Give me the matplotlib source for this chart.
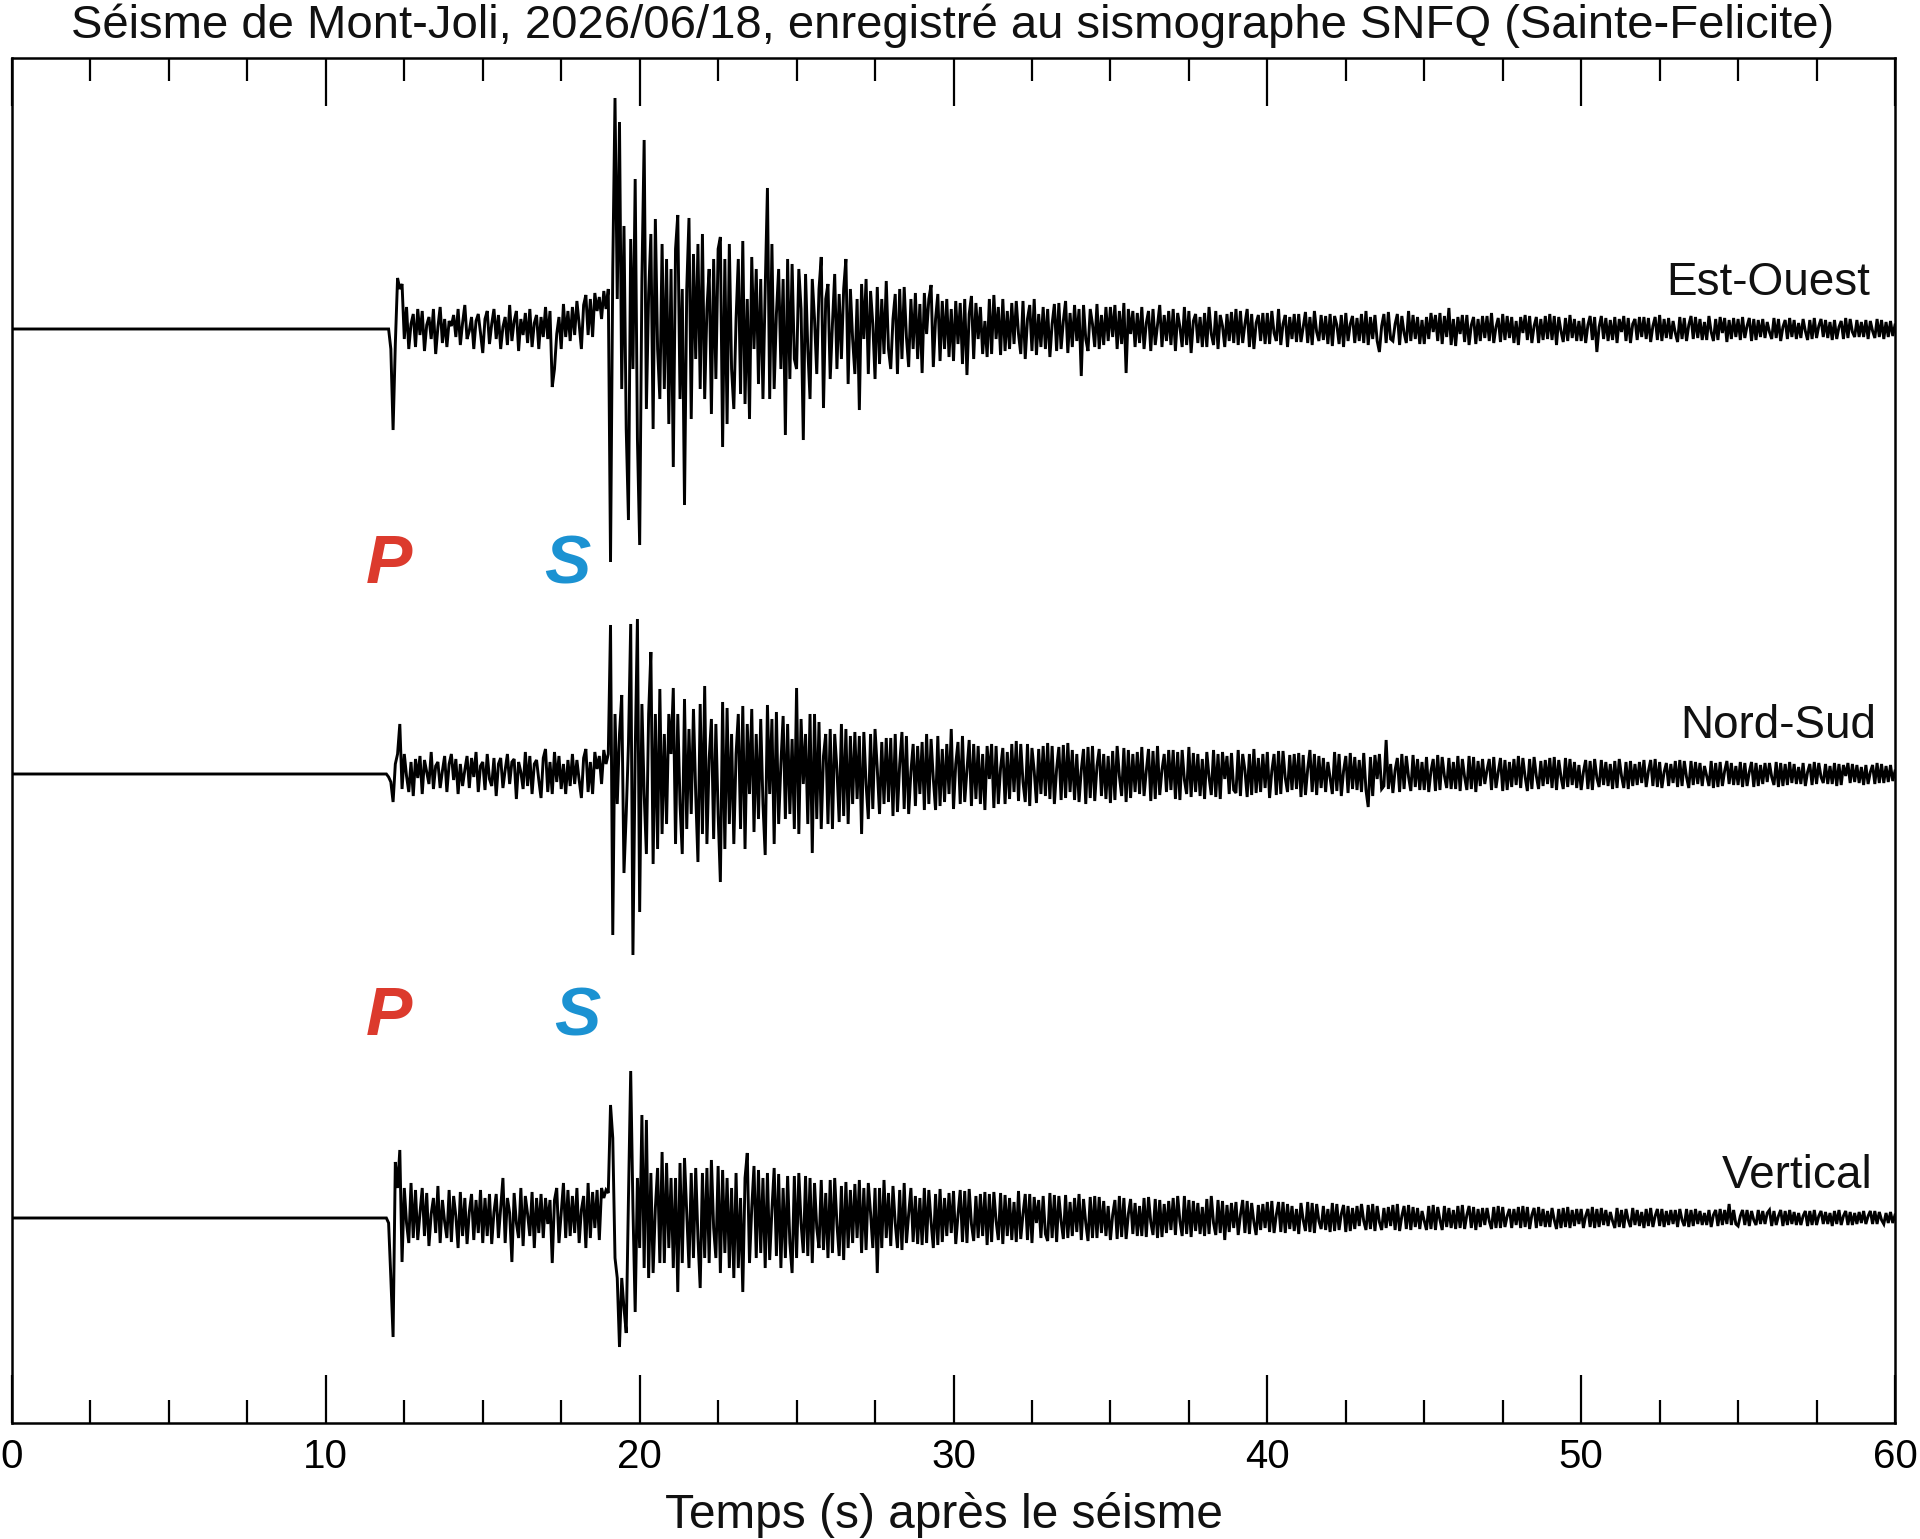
import numpy as np
import matplotlib
matplotlib.use("Agg")
import matplotlib.pyplot as plt
from matplotlib.ticker import MultipleLocator

plt.rcParams['font.family'] = ['Liberation Sans', 'DejaVu Sans']

TITLE = "Séisme de Mont-Joli, 2026/06/18, enregistré au sismographe SNFQ (Sainte-Felicite)"
XLABEL = "Temps (s) après le séisme"
COMPONENTS = ["Est-Ouest", "Nord-Sud", "Vertical"]
X_TICKS = [0, 10, 20, 30, 40, 50, 60]

FIRST_SECOND = 12      # first digitised second (rows below: one row per second)
LAST_SECOND = 60

# Est-Ouest trace, amplitude (arbitrary units); each row = one second from 12 s
ew = [
 [0, -20, -101, -15, 51, 40, 45, -10, 22, -20, 5, 15, -18, 20],
 [-6, 18, -22, 4, 12, -10, 20, -25, 2, 22, -14, 10, -18, 8],
 [3, 14, -8, 20, -16, 6, 24, -10, -2, 12, -20, 8, 15, -4],
 [-24, 10, 18, -15, 5, 20, -10, 14, -20, 2, 12, -16, 24, -12],
 [8, 18, -22, 10, -6, 16, -14, 20, -18, 6, 14, -20, 12, -8],
 [22, -10, 18, -58, -40, -5, 12, -20, 25, -8, 18, -12, 22, -6],
 [28, 5, -20, 24, 34, -6, 30, -8, 36, 18, 32, 10, 38, 20],
 [40, -233, 60, 231, 30, 207, -60, 103, -100, -191, 90, -40, 150, -110],
 [-216, 50, 189, -80, 35, 95, -100, 110, -20, -70, 85, -60, 70, -95],
 [60, -138, 80, 114, -70, 40, -176, 40, 111, -90, 75, -30, 85, -60],
 [95, -70, 20, 60, -85, 70, -50, 80, 92, -118, 70, -95, 85, -40],
 [-80, 10, 70, -65, 88, -75, 30, -90, 72, -20, 60, -55, 50, -70],
 [40, 141, -70, 85, -60, 15, 60, -40, 50, -106, 70, -50, 65, -30],
 [-40, 60, 20, -111, 55, -20, -70, 50, 10, -45, 40, 72, -79, 30],
 [45, -50, 5, 55, -40, 35, -30, 40, 70, -55, 40, -10, -45, 30],
 [-81, 45, -10, 50, -45, 38, 5, -50, 42, -35, 30, -25, 48, -20],
 [-40, 10, 35, -45, 40, -30, 42, -8, -38, 30, -20, 36, -30, 25],
 [-44, 36, -5, 30, 44, -38, 10, 35, -32, 28, -20, 30, -28, 20],
 [-32, 28, -15, 26, -35, 30, -46, 15, 33, -30, 26, -10, 22, -25],
 [8, -28, 30, -25, 34, -10, 22, -26, 30, -22, 18, -20, 26, -15],
 [28, -5, -25, 28, -30, 10, 24, -22, 30, -26, 15, -18, 22, -20],
 [20, -28, 5, 25, -22, 26, -20, 8, 28, -24, 16, -18, 24, -12],
 [20, -47, 24, -10, -22, 20, 5, -18, 25, -20, 14, -16, 22, -12],
 [22, -8, 24, -20, 18, -15, 26, -44, 20, -5, 18, -18, 16, -14],
 [22, -20, 6, 18, -22, 20, -16, 4, 24, -18, 14, -12, 18, -16],
 [20, -22, 16, 2, -18, 22, -16, 18, -24, 8, 15, -14, 12, -18],
 [16, -18, 22, -5, -16, 18, -20, 14, 3, -18, 15, -12, 17, -14],
 [20, -16, 18, -14, 5, 20, -18, 15, -20, 6, 14, -12, 16, -15],
 [16, -15, 18, -4, -12, 20, -16, 5, 14, -18, 12, -10, 15, -13],
 [15, -13, 2, 17, -14, 12, -16, 18, -3, -12, 14, -11, 13, -15],
 [15, -17, 13, 4, -15, 14, -18, 16, -12, 5, 13, -14, 11, -12],
 [15, -14, 18, -16, 12, -10, 14, -12, -23, 3, 15, -14, 17, -10],
 [-12, 5, 15, -16, 13, -4, -14, 18, -12, 14, -10, 12, -15, 9],
 [-15, 12, -10, 16, -3, 14, -12, 16, -15, 13, -8, 21, -16, 10],
 [-17, 12, -5, 14, -13, 14, -16, 4, 12, -15, 10, -12, 13, -9],
 [13, -12, 16, -14, 2, 11, -13, 15, -11, 13, -9, 12, -14, 8],
 [-16, 12, -4, 14, -11, 13, -14, 3, 12, -14, 10, -11, 13, -10],
 [15, -11, 13, -16, 12, -2, -13, 11, -12, 14, -9, 10, -12, 8],
 [-12, 11, -14, 4, 13, -11, 12, -23, 2, 13, -10, 11, -12, 9],
 [-11, 12, -14, 10, -3, 13, -12, 11, -14, 5, 10, -11, 12, -8],
 [12, -10, 11, -13, 3, 12, -11, 14, -12, 10, -9, 11, -10, 8],
 [-4, -13, 12, -10, 11, -12, 4, 13, -10, 12, -9, 10, -11, 7],
 [-11, 13, -3, -12, 10, -11, 12, -4, 11, -13, 9, -10, 11, -8],
 [10, -11, 12, -9, 3, 11, -12, 10, -11, 9, -8, 10, -9, 7],
 [-3, -10, 11, -9, 10, -12, 2, 9, -10, 11, -8, 9, -10, 6],
 [-9, 10, -2, -11, 9, -10, 11, -9, 3, 10, -8, 9, -9, 7],
 [-11, 9, -10, 2, 8, -10, 11, -9, 10, -3, -8, 9, -8, 7],
 [-8, 9, -10, 8, -2, -9, 10, -8, 9, -10, 7, -8, 8, -7],
]
ew_end = 4

# Nord-Sud trace
ns = [
 [-3, -8, -28, 10, 20, 50, -15, 20, -2, -18, 12, -22, 15, -4],
 [18, -20, 14, 2, -10, 22, -15, 8, 12, -14, 3, 18, -18, 10],
 [20, -6, 15, -20, 10, -12, 4, 18, -14, 16, -3, 22, -18, 8],
 [12, -16, 20, -5, -12, 16, -22, 10, 16, -14, 4, 20, -10, 12],
 [15, -25, 12, 2, -15, 22, -12, 18, -20, 10, 14, -6, -24, 16],
 [25, -18, 12, -20, 22, -8, 18, -15, 10, -20, 14, -12, 20, -10],
 [14, -6, -24, 16, 25, -18, 12, -20, 22, 5, 18, -10, 24, 10],
 [20, 149, -161, 60, -30, 40, 79, -99, -40, 30, 150, -181, 20, 155],
 [-138, 70, -20, -80, 60, 122, -90, 60, -75, 85, -60, 40, -50, 60],
 [20, 86, -70, 60, -30, -80, 75, -55, 45, -40, 65, -20, -88, 70],
 [-60, 88, -70, 15, 55, -65, 50, -40, -108, 72, -75, 66, -50, 40],
 [-70, 20, 60, -55, 68, -75, 50, -20, 65, -58, 40, -45, 55, -30],
 [-81, 69, -20, 55, -70, 62, -50, 10, 58, -45, 50, -40, 35, -55],
 [86, -60, 55, -10, 40, -50, 60, -79, 60, -45, 52, -55, 18, 40],
 [-50, 45, -55, 40, 5, -48, 50, -42, 45, -50, 38, -30, 42, -25],
 [38, -60, 42, -10, -45, 40, -35, 45, 5, -40, 32, -30, 36, -28],
 [36, -42, 40, -38, 10, 42, -35, 38, -40, 2, 30, -32, 28, -20],
 [32, -36, 40, -30, 35, -5, -36, 38, -32, 25, -28, 30, -20, 45],
 [-35, 10, 32, -30, 38, -28, 4, 34, -32, 30, -25, 28, -30, 20],
 [-36, 28, -5, 30, -34, 28, -30, 6, 26, -30, 22, -25, 30, -18],
 [33, -27, 30, -8, -28, 30, -32, 26, 3, -29, 25, -20, 28, -22],
 [31, -25, 28, -30, 5, 27, -26, 29, -24, 31, -18, 24, -26, 20],
 [-28, 4, 25, -30, 27, -24, 28, -27, 8, 25, -22, 20, -25, 18],
 [-29, 23, -26, 28, -2, -22, 26, -28, 24, -24, 20, -18, 22, -20],
 [27, -22, 3, 25, -27, 23, -25, 28, -21, 4, 20, -18, 24, -16],
 [24, -25, 22, -26, 24, -6, -20, 27, -23, 21, -18, 20, -22, 15],
 [-25, 22, -3, -21, 24, -23, 20, -25, 22, -5, 18, -20, 21, -16],
 [-19, 24, -22, 20, 4, -23, 20, -21, 25, -19, 16, -18, 20, -14],
 [22, -24, 3, 20, -21, 23, -20, 23, -4, -18, 19, -16, 20, -15],
 [21, -23, 19, -21, 5, 24, -18, 20, -21, 18, -14, 16, -18, 12],
 [-4, -20, 22, -17, 20, -22, 3, 18, -19, 21, -15, 17, -16, 14],
 [-18, 21, -16, -33, 17, -22, 19, -5, 20, -15, -12, 34, -15, 10],
 [-19, 4, 16, -18, 20, -15, 18, -3, -17, 19, -13, 15, -16, 12],
 [-16, 17, -18, 3, 15, -17, 19, -16, 17, -2, -14, 16, -15, 12],
 [-15, 18, -17, 15, -3, -16, 18, -15, 17, -18, 13, -12, 15, -10],
 [4, 15, -16, 17, -14, 2, 16, -17, 14, -16, 12, -13, 15, -11],
 [18, -14, 16, -3, -17, 15, -15, 17, -2, -15, 13, -12, 14, -10],
 [16, -14, 17, -16, 14, -3, -15, 16, -13, 15, -11, 12, -14, 9],
 [-16, 2, 14, -15, 13, -16, 15, -4, -13, 14, -11, 12, -12, 10],
 [-15, 13, -14, 15, -2, -14, 12, -15, 13, -12, 10, -11, 12, -9],
 [14, -13, 3, 14, -12, 15, -13, 12, -14, 2, 11, -12, 10, -9],
 [13, -13, 14, -12, 13, -3, -14, 13, -11, 12, -10, 11, -12, 8],
 [-2, -12, 13, -14, 11, -13, 12, -12, 3, 13, -10, 11, -11, 8],
 [-11, 12, -13, 11, -12, 2, 12, -13, 11, -12, 9, -10, 11, -8],
 [11, -3, -11, 12, -13, 11, -12, 10, -11, 12, -9, 10, -10, 7],
 [-10, 11, -12, 2, 10, -11, 12, -10, 11, -3, -9, 10, -10, 8],
 [-10, 11, -12, 10, -11, 9, -2, 11, -9, 10, -8, 9, -9, 7],
 [-11, 9, -10, 2, 9, -10, 11, -9, 10, -9, 8, -8, 9, -7],
]
ns_end = 3

# Vertical trace
vz = [
 [-5, -60, -119, 56, 30, 68, -44, 30, -5, -25, 35, -20, 28, -22],
 [5, 30, -18, 25, -28, 4, 20, -15, 32, -25, 18, -4, -20, 28],
 [-24, 22, 2, -30, 26, -18, 20, -26, 6, 24, -22, 18, -15, 28],
 [-25, 20, -18, 24, -26, 6, 24, -20, 10, 40, -25, 20, 5, -44],
 [25, -5, -20, 30, -28, 22, 4, -18, 26, -30, 20, -15, 24, -20],
 [20, -6, 18, -45, 18, 30, -25, 5, 35, -20, 28, -18, 22, -15],
 [30, -25, 8, 22, -30, 35, -20, 26, -10, 28, -22, 30, 20, 28],
 [25, 113, 80, -40, -60, -129, -60, -90, -115, 20, 147, 10, -94, 40],
 [-30, 103, -50, 98, -60, 45, -55, 10, 50, -45, 66, -45, 55, -30],
 [40, -50, 40, -74, 55, -45, 60, 5, -50, 45, -40, 50, -20, -70],
 [45, -40, 50, -45, 58, -10, -40, 52, -55, 48, -35, 40, -50, 30],
 [-60, 45, -50, 20, -74, 40, 65, -45, 10, 52, -40, 48, -35, 40],
 [-50, 45, -42, 8, 50, -38, 44, -50, 30, -40, 42, -25, -55, 42],
 [-40, 45, -5, -35, 42, -38, 40, -45, 35, -10, -30, 38, -32, 25],
 [-40, 38, -35, 40, -6, -38, 32, -42, 36, -30, 28, -25, 34, -20],
 [38, -35, 30, -32, 35, 5, -30, 30, -55, 30, -30, 38, -20, 25],
 [-28, 32, -5, -30, 28, -32, 35, -25, 4, 30, -24, 22, -26, 20],
 [-27, 30, -25, 28, -4, -30, 24, -27, 29, -24, 20, -18, 25, -15],
 [27, -26, 3, 28, -24, 27, -25, 29, -6, -23, 22, -20, 24, -18],
 [26, -27, 24, -24, 26, -3, -22, 25, -26, 23, -18, 20, -22, 16],
 [-24, 27, -21, 4, 24, -22, 24, -25, 21, -5, 18, -20, 22, -16],
 [-23, 25, -20, 23, -24, 22, -3, -21, 23, -20, 16, -18, 20, -14],
 [24, -22, 19, -5, -23, 21, -20, 22, -20, 21, -15, 17, -18, 12],
 [-22, 3, 18, -21, 22, -19, 20, -21, 4, 19, -16, 15, -18, 12],
 [-18, 20, -19, 21, -4, -17, 19, -20, 18, -19, 14, -15, 17, -12],
 [20, -17, 22, -3, -18, 22, -16, 18, -19, 17, -13, 15, -16, 11],
 [-18, 19, -16, 22, -5, -17, 18, -15, 17, -22, 13, -14, 15, -10],
 [16, -17, 3, 18, -15, 17, -16, 15, -4, -17, 13, -12, 14, -10],
 [16, -14, 17, -15, 3, 16, -14, 16, -15, 14, -11, 12, -13, 9],
 [-16, 15, -2, -13, 16, -14, 15, -15, 14, -3, -11, 12, -12, 9],
 [-14, 15, -13, 14, -12, 4, 13, -14, 12, -13, 10, -11, 12, -8],
 [14, -3, -12, 13, -11, 14, -13, 12, -4, -12, 10, -10, 11, -8],
 [13, -12, 14, -13, 2, 12, -11, 13, -12, 11, -9, 10, -11, 7],
 [-3, -12, 12, -11, 13, -12, 11, -2, -12, 12, -9, 10, -10, 8],
 [-11, 12, -10, 13, -11, 3, 12, -10, 11, -12, 9, -9, 10, -7],
 [10, -3, -11, 11, -10, 12, -10, 11, -9, 2, 9, -10, 9, -7],
 [11, -10, 12, -9, 11, -11, 3, 10, -10, 11, -8, 9, -9, 7],
 [-9, 10, -2, -11, 9, -10, 10, -9, 11, -10, 8, -8, 9, -6],
 [9, -10, 2, 9, -9, 11, -10, 9, -9, 10, -7, 8, -8, 6],
 [-3, -10, 10, -9, 8, -10, 9, -2, -9, 10, -7, 8, -8, 6],
 [-10, 9, -8, 10, -9, 2, 9, -8, 9, -9, 7, -7, 8, -6],
 [8, -9, 9, -2, -8, 9, -9, 8, -8, 9, -6, 7, -7, 5],
 [-7, 8, -9, 3, 8, -8, 9, -7, 8, -6, 14, -7, 8, -6],
 [-8, 2, 8, -7, 8, -8, 7, -2, -7, 8, -6, 7, -6, 5],
 [8, -8, 7, -7, 2, 8, -8, 7, -7, 8, -6, 6, -7, 5],
 [-7, 2, 7, -8, 7, -7, 8, -7, 2, 7, -6, 6, -6, 5],
 [-8, 7, -6, 8, -7, 2, 7, -7, 6, -7, 5, -6, 6, -5],
 [7, -6, 2, 7, -6, 7, -6, 6, -2, -6, 5, -5, 6, -5],
]
vz_end = 3

TRACES = [(ew, ew_end), (ns, ns_end), (vz, vz_end)]
BASELINES = [1094, 649, 205]          # vertical position of each trace
LABEL_X = [59.2, 59.4, 59.3]
LABEL_Y = [1128, 685, 235]

P_LABEL = "P"
S_LABEL = "S"
P_TIMES = [12.0, 12.0]
S_TIMES = [17.7, 18.0]
PS_Y = [840, 388]


def build(rows, end_value):
    t = [0.0, FIRST_SECOND - 1.0 / len(rows[0])]
    y = [0.0, 0.0]
    for i, row in enumerate(rows):
        n = len(row)
        for k, v in enumerate(row):
            t.append(FIRST_SECOND + i + k / n)
            y.append(v)
    t.append(float(LAST_SECOND))
    y.append(end_value)
    return np.array(t), np.array(y, dtype=float)


fig = plt.figure(figsize=(19.2, 15.39), dpi=100)
ax = fig.add_axes([12 / 1920, 116 / 1539, 1883 / 1920, 1365.5 / 1539])

for (rows, endv), base in zip(TRACES, BASELINES):
    t, y = build(rows, endv)
    ax.plot(t, y + base, color='black', lw=2.1, solid_joinstyle='miter', zorder=3)

for name, lx, ly in zip(COMPONENTS, LABEL_X, LABEL_Y):
    ax.text(lx, ly, name, ha='right', va='baseline', fontsize=33, color='#111111')

for pt, st, py in zip(P_TIMES, S_TIMES, PS_Y):
    ax.text(pt, py, P_LABEL, ha='center', va='baseline', fontsize=50,
            fontweight='bold', fontstyle='italic', color='#dc3a2d')
    ax.text(st, py, S_LABEL, ha='center', va='baseline', fontsize=50,
            fontweight='bold', fontstyle='italic', color='#1b92d2')

ax.set_xlim(0, 60)
ax.set_ylim(0, 1365.5)
ax.set_xticks(X_TICKS)
ax.set_xticklabels([str(v) for v in X_TICKS])
ax.xaxis.set_minor_locator(MultipleLocator(2.5))
ax.set_yticks([])
ax.tick_params(axis='x', which='both', direction='in', top=True, bottom=True,
               width=1.6, colors='black', labelsize=29, pad=11)
ax.tick_params(axis='x', which='major', length=34.5)
ax.tick_params(axis='x', which='minor', length=16.5)
for sp in ax.spines.values():
    sp.set_linewidth(1.8)

fig.text(953 / 1920, 1 - 38 / 1539, TITLE, ha='center', va='baseline', fontsize=34, color='#111111')
fig.text(944 / 1920, 1 - 1528 / 1539, XLABEL, ha='center', va='baseline', fontsize=34.4, color='#111111')

fig.savefig('out.png', dpi=100, facecolor='white')
